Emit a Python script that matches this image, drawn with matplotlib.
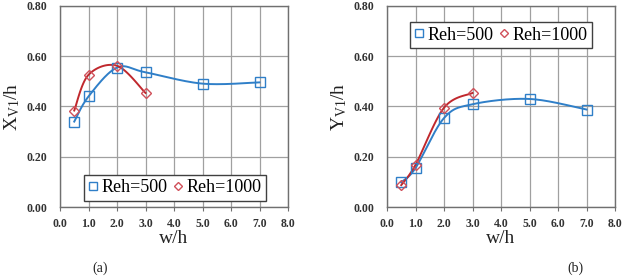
import numpy as np
import matplotlib
matplotlib.use("Agg")
import matplotlib.pyplot as plt
from matplotlib.ticker import FormatStrFormatter, MultipleLocator

plt.rcParams['font.family'] = ['Liberation Serif', 'DejaVu Serif']
plt.rcParams['mathtext.fontset'] = 'custom'
plt.rcParams['mathtext.rm'] = 'Liberation Serif'
plt.rcParams['mathtext.it'] = 'Liberation Serif'

w500 = [0.5, 1.0, 2.0, 3.0, 5.0, 7.0]
w1000 = [0.5, 1.0, 2.0, 3.0]
x500 = [0.340, 0.440, 0.555, 0.536, 0.491, 0.496]
x1000 = [0.384, 0.526, 0.562, 0.454]
y500 = [0.098, 0.155, 0.354, 0.409, 0.430, 0.388]
y1000 = [0.087, 0.168, 0.395, 0.454]
labels = ["Reh=500", "Reh=1000"]
ylabels = [r"X$_{\rm V1}$/h", r"Y$_{\rm V1}$/h"]
captions = ["(a)", "(b)"]

BLUE = "#2F7FC8"
RED = "#C0282D"
MRED = "#D0505A"
GRID = "#A0A0A0"


def smooth(xs, ys, sx=1.0, sy=1.0, n=40):
    # Excel-like smoothed line (Bezier with Catmull-Rom style control points)
    P = np.column_stack([np.asarray(xs) * sx, np.asarray(ys) * sy])
    out = []
    m = len(P)
    for i in range(m - 1):
        p0 = P[i - 1] if i > 0 else P[i]
        p1 = P[i]
        p2 = P[i + 1]
        p3 = P[i + 2] if i + 2 < m else P[i + 1]
        c1 = p1 + (p2 - p0) / 6.0
        c2 = p2 - (p3 - p1) / 6.0
        t = np.linspace(0, 1, n)[:, None]
        seg = ((1 - t) ** 3) * p1 + 3 * ((1 - t) ** 2) * t * c1 + 3 * (1 - t) * t ** 2 * c2 + t ** 3 * p2
        out.append(seg if i == 0 else seg[1:])
    Q = np.vstack(out)
    return Q[:, 0] / sx, Q[:, 1] / sy


fig = plt.figure(figsize=(6.27, 2.78), dpi=100)
W, H = 627, 278
axes_px = [(60, 6, 288, 207), (387, 6, 615, 207)]
legend_loc = [(0.105, 0.03), (0.1, 0.79)]
caption_x = [100, 575]

for k, (l, t, r, b) in enumerate(axes_px):
    ax = fig.add_axes([l / W, 1 - b / H, (r - l) / W, (b - t) / H])
    ys_a = [x500, y500][k]
    ys_b = [x1000, y1000][k]
    sx, sy = 228 / 8.0, 201 / 0.8
    cx, cy = smooth(w500, ys_a, sx, sy)
    ax.plot(cx, cy, color=BLUE, lw=1.4, zorder=3)
    cx, cy = smooth(w1000, ys_b, sx, sy)
    ax.plot(cx, cy, color=RED, lw=1.4, zorder=3)
    h1, = ax.plot(w500, ys_a, ls='none', marker='s', ms=7.5, mfc='none', mec=BLUE, mew=1.0, zorder=4, label=labels[0])
    h2, = ax.plot(w1000, ys_b, ls='none', marker='D', ms=5.5, mfc='none', mec=MRED, mew=1.0, zorder=4, label=labels[1])
    ax.set_xlim(0, 8)
    ax.set_ylim(0, 0.8)
    ax.xaxis.set_major_locator(MultipleLocator(1.0))
    ax.yaxis.set_major_locator(MultipleLocator(0.2))
    ax.xaxis.set_major_formatter(FormatStrFormatter('%.1f'))
    ax.yaxis.set_major_formatter(FormatStrFormatter('%.2f'))
    ax.grid(True, color=GRID, lw=0.9)
    ax.set_axisbelow(True)
    for s in ax.spines.values():
        s.set_color('#707070')
        s.set_linewidth(1.0)
    ax.tick_params(axis='both', labelsize=8.5, length=3, color='#707070', pad=5)
    ax.tick_params(axis='y', length=0, pad=9)
    for lab in ax.get_xticklabels() + ax.get_yticklabels():
        lab.set_fontweight('bold')
        lab.set_color('#333333')
    ax.set_xlabel("w/h", fontsize=14, color='#222222', labelpad=0)
    ax.set_ylabel(ylabels[k], fontsize=14, color='#222222', labelpad=3)
    leg = ax.legend(handles=[h1, h2], loc='lower left', bbox_to_anchor=legend_loc[k], ncol=2,
                    fontsize=13, frameon=True, fancybox=False, edgecolor='#404040',
                    handlelength=0.5, handletextpad=0.25, columnspacing=0.3, borderpad=0.25,
                    borderaxespad=0, markerscale=0.75, framealpha=1)
    leg.get_frame().set_linewidth(1.0)
    fig.text(caption_x[k] / W, 1 - 268 / H, captions[k], ha='center', va='center', fontsize=10, color='#222222')

fig.savefig("out.png", dpi=100)
